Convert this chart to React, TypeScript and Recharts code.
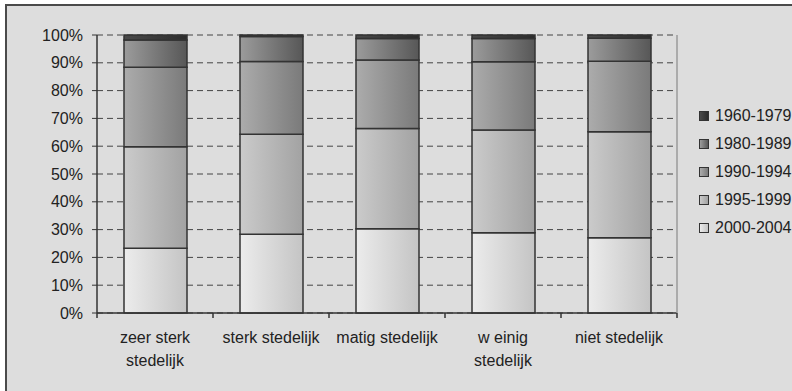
import React from "react";
import {
  Bar,
  BarChart,
  CartesianGrid,
  XAxis,
  YAxis,
} from "recharts";

const CATEGORIES = [
  "zeer sterk\nstedelijk",
  "sterk stedelijk",
  "matig stedelijk",
  "w einig\nstedelijk",
  "niet stedelijk",
];
const SERIES = ["2000-2004", "1995-1999", "1990-1994", "1980-1989", "1960-1979"];
const V_2000_2004 = [23.3, 28.3, 30.3, 28.9, 27.1];
const V_1995_1999 = [36.5, 36.0, 36.1, 36.9, 38.1];
const V_1990_1994 = [28.6, 26.2, 24.6, 24.6, 25.4];
const V_1980_1989 = [9.8, 9.0, 7.7, 8.3, 8.2];
const V_1960_1979 = [1.8, 0.5, 1.3, 1.3, 1.2];
const Y_TICKS = [0, 10, 20, 30, 40, 50, 60, 70, 80, 90, 100];

const VALUES = [V_2000_2004, V_1995_1999, V_1990_1994, V_1980_1989, V_1960_1979];
// light -> dark, left to right
const GRADIENTS: [string, string][] = [
  ["#ececec", "#c4c4c4"],
  ["#cbcbcb", "#a2a2a2"],
  ["#acacac", "#7a7a7a"],
  ["#9c9c9c", "#575757"],
  ["#4a4a4a", "#2c2c2c"],
];

const data = CATEGORIES.map((name, i) => {
  const row: Record<string, string | number> = { name };
  SERIES.forEach((s, j) => {
    row[s] = VALUES[j][i];
  });
  return row;
});

const FONT = "'Liberation Sans', Arial, sans-serif";
const BAND = 116;

const CategoryTick = (props: any) => {
  const { x, y, payload, index } = props;
  const lines = String(payload.value).split("\n");
  const top = y - 8;
  return (
    <g>
      <line x1={x - BAND / 2} x2={x - BAND / 2} y1={top} y2={top + 5} stroke="#333" strokeWidth={1.5} />
      {index === CATEGORIES.length - 1 && (
        <line x1={x + BAND / 2} x2={x + BAND / 2} y1={top} y2={top + 5} stroke="#333" strokeWidth={1.5} />
      )}
      <text x={x} y={top + 30} textAnchor="middle" fill="#222" fontSize={16} fontFamily={FONT}>
        {lines.map((l, k) => (
          <tspan key={k} x={x} dy={k === 0 ? 0 : 23}>
            {l}
          </tspan>
        ))}
      </text>
    </g>
  );
};

const App = () => {
  return (
    <div
      style={{
        position: "fixed",
        left: 0,
        top: 0,
        width: 792,
        height: 391,
        overflow: "hidden",
        background: "#fff",
      }}
    >
      <div
        style={{
          position: "absolute",
          left: 5,
          top: 4,
          width: 800,
          height: 400,
          border: "2px solid #4a4a4a",
          background: "#dddddd",
          fontFamily: FONT,
        }}
      >
        <BarChart
          width={680}
          height={380}
          data={data}
          barSize={63}
          margin={{ top: 29, right: 9, bottom: 0, left: 0 }}
        >
          <defs>
            {SERIES.map((s, j) => (
              <linearGradient key={s} id={`g${j}`} x1="0" y1="0" x2="1" y2="0">
                <stop offset="0%" stopColor={GRADIENTS[j][0]} />
                <stop offset="100%" stopColor={GRADIENTS[j][1]} />
              </linearGradient>
            ))}
          </defs>
          <CartesianGrid vertical={false} stroke="#444" strokeDasharray="6 4" />
          <XAxis
            dataKey="name"
            height={73}
            tickLine={false}
            axisLine={{ stroke: "#333", strokeWidth: 1.5 }}
            tick={<CategoryTick />}
            interval={0}
          />
          <YAxis
            width={90}
            domain={[0, 100]}
            ticks={Y_TICKS}
            tickFormatter={(v) => `${v}%`}
            tickSize={5}
            tickMargin={9}
            axisLine={{ stroke: "#333", strokeWidth: 1.5 }}
            tickLine={{ stroke: "#333" }}
            tick={{ fill: "#222", fontSize: 16, fontFamily: FONT }}
          />
          <YAxis
            yAxisId="right"
            orientation="right"
            width={1}
            tick={false}
            tickLine={false}
            axisLine={{ stroke: "#9a9a9a", strokeWidth: 1.5 }}
          />
          {SERIES.map((s, j) => (
            <Bar
              key={s}
              dataKey={s}
              stackId="a"
              fill={`url(#g${j})`}
              stroke="#333"
              strokeWidth={1.5}
              isAnimationActive={false}
            />
          ))}
        </BarChart>
        <div style={{ position: "absolute", left: 692, top: 96, fontFamily: FONT }}>
          {[...SERIES].reverse().map((s) => {
            const j = SERIES.indexOf(s);
            return (
              <div
                key={s}
                style={{ display: "flex", alignItems: "center", height: 28, fontSize: 16, color: "#222" }}
              >
                <span
                  style={{
                    width: 8,
                    height: 8,
                    border: "1px solid #333",
                    background: `linear-gradient(to right, ${GRADIENTS[j][0]}, ${GRADIENTS[j][1]})`,
                    marginRight: 6,
                    flex: "none",
                  }}
                />
                <span style={{ whiteSpace: "nowrap" }}>{s}</span>
              </div>
            );
          })}
        </div>
      </div>
    </div>
  );
};

export default App;
